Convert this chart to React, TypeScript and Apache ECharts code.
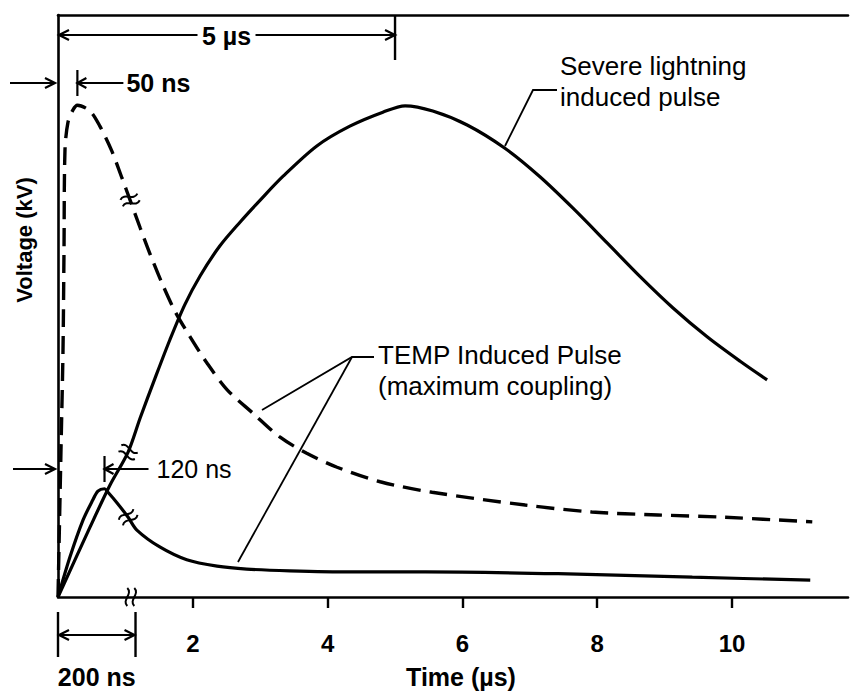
import React, { useEffect, useRef } from "react";
import * as echarts from "echarts";

// ---------- data ----------
// x axis: µs, broken axis – the first segment shows 0–200 ns stretched
const xTickValues = [2, 4, 6, 8, 10];
const X_MAX_US = 11.72;
const Y_MAX = 100; // relative voltage units (no tick labels on the y axis)
const BREAK_NS = 200; // 200 ns is drawn where the axis reads this many µs
const BREAK_AXIS_US = 1.15;
const BREAK_MARK_X = 1.05;

// Severe lightning induced pulse [µs, V]
const lightningUs: [number, number][] = [
  [0, 0], [0.475, 12.0], [0.77, 19.2], [1.04, 24.9], [1.22, 30.8], [1.44, 37.6],
  [1.66, 44.2], [1.88, 50.2], [2.11, 55.2], [2.4, 60.3], [2.7, 64.4], [3.0, 68.2],
  [3.34, 72.3], [3.84, 77.5], [4.33, 80.9], [4.82, 83.3], [5.15, 84.4], [5.56, 83.5],
  [6.07, 81.1], [6.63, 77.1], [7.15, 72.2], [7.64, 66.8], [8.15, 60.8], [8.64, 55.0],
  [9.12, 49.7], [9.63, 44.7], [10.12, 40.5], [10.52, 37.3],
];

// TEMP induced pulse, maximum coupling (dashed) – fast part [ns, V], slow part [µs, V]
const tempPeakFastNs: [number, number][] = [
  [0, 0], [7.7, 25.3], [12.9, 42.4], [15.5, 59.6], [18, 76.8], [25.8, 81.6],
  [38.7, 83.7], [50, 84.5], [82.6, 83.5], [108, 80.9], [139, 76.6], [165, 72.0], [186, 68.2],
];
const tempPeakSlowUs: [number, number][] = [
  [1.22, 63.4], [1.36, 59.1], [1.54, 54.0], [1.74, 49.0], [1.96, 44.7], [2.21, 40.2],
  [2.51, 35.6], [2.89, 31.6], [3.29, 27.5], [3.69, 24.7], [4.14, 22.3], [4.78, 19.8],
  [5.55, 18.0], [6.93, 15.8], [7.92, 14.6], [8.9, 14.1], [9.9, 13.7], [11.19, 12.9],
];

// TEMP induced pulse, lower (solid) – fast part [ns, V], slow part [µs, V]
const tempLowFastNs: [number, number][] = [
  [0, 0], [31, 6.9], [64.5, 13.2], [90, 16.7], [103, 18.2], [120, 18.6], [129, 18.0],
  [152, 16.2], [181, 13.7],
];
const tempLowSlowUs: [number, number][] = [
  [1.17, 11.5], [1.51, 8.6], [1.91, 6.4], [2.36, 5.3], [2.8, 4.8], [3.44, 4.5],
  [4.33, 4.3], [5.45, 4.3], [7.42, 4.0], [9.41, 3.4], [11.16, 2.9],
];

// ---------- helpers ----------
const nsToAxis = (ns: number) => (ns / BREAK_NS) * BREAK_AXIS_US;
const joinBroken = (fast: [number, number][], slow: [number, number][]) =>
  fast.map(([t, v]) => [nsToAxis(t), v] as [number, number]).concat(slow);

const FONT = '"Liberation Sans", Arial, Helvetica, sans-serif';
const INK = "#000";

function arrowHead(x: number, y: number, dx: number, dy: number, L = 10, W = 5) {
  return {
    type: "polyline",
    z: 50,
    shape: {
      points: [
        [x - dx * L - dy * W, y - dy * L + dx * W],
        [x, y],
        [x - dx * L + dy * W, y - dy * L - dx * W],
      ],
    },
    style: { stroke: INK, lineWidth: 2.2, fill: null },
  };
}
function seg(x1: number, y1: number, x2: number, y2: number, w = 2.2) {
  return { type: "line", z: 50, shape: { x1, y1, x2, y2 }, style: { stroke: INK, lineWidth: w } };
}
function label(text: string, x: number, y: number, align: string, bold = false, size = 26, rotation = 0) {
  return {
    type: "text",
    z: 60,
    x,
    y,
    rotation,
    style: {
      text,
      fill: INK,
      font: `${bold ? "bold " : ""}${size}px ${FONT}`,
      textAlign: align,
      verticalAlign: "middle",
    },
  };
}
function breakMark(x: number, y: number, rotation: number) {
  const s = (ox: number) => ({
    type: "bezierCurve",
    shape: { x1: ox, y1: -9, cpx1: ox + 6, cpy1: -3, cpx2: ox - 6, cpy2: 3, x2: ox, y2: 9 },
    style: { stroke: INK, lineWidth: 2, fill: null },
  });
  return {
    type: "group",
    x,
    y,
    rotation,
    z: 70,
    children: [
      { type: "rect", shape: { x: -3, y: -5, width: 6, height: 10 }, style: { fill: "#fff" } },
      s(-3.5),
      s(3.5),
    ],
  };
}

export default function App() {
  const ref = useRef<HTMLDivElement>(null);

  useEffect(() => {
    if (!ref.current) return;
    const chart = echarts.init(ref.current, null, { renderer: "svg" });

    const lightning = lightningUs;
    const tempPeak = joinBroken(tempPeakFastNs, tempPeakSlowUs);
    const tempLow = joinBroken(tempLowFastNs, tempLowSlowUs);

    const axisLine = { show: true, lineStyle: { color: INK, width: 2.6 } };

    chart.setOption({
      animation: false,
      backgroundColor: "#fff",
      grid: { left: 58, right: 2, top: 15, bottom: 95 },
      xAxis: [
        {
          type: "value",
          min: 0,
          max: X_MAX_US,
          interval: 2,
          axisLine,
          axisTick: { show: true, customValues: xTickValues, length: 11, lineStyle: { color: INK, width: 2.4 } },
          axisLabel: {
            customValues: xTickValues,
            margin: 34,
            color: INK,
            fontFamily: FONT,
            fontSize: 24,
            fontWeight: "bold",
          },
          splitLine: { show: false },
        },
        {
          type: "value",
          position: "top",
          min: 0,
          max: X_MAX_US,
          axisLine,
          axisTick: { show: false },
          axisLabel: { show: false },
          splitLine: { show: false },
        },
      ],
      yAxis: {
        type: "value",
        min: 0,
        max: Y_MAX,
        axisLine,
        axisTick: { show: false },
        axisLabel: { show: false },
        splitLine: { show: false },
      },
      series: [
        {
          name: "Severe lightning induced pulse",
          type: "line",
          data: lightning,
          symbol: "none",
          smooth: 0.3,
          lineStyle: { color: INK, width: 3.2 },
          z: 3,
        },
        {
          name: "TEMP Induced Pulse (maximum coupling)",
          type: "line",
          data: tempPeak,
          symbol: "none",
          smooth: 0.3,
          lineStyle: { color: INK, width: 3.4, type: [18, 9] },
          z: 3,
        },
        {
          name: "TEMP Induced Pulse (low)",
          type: "line",
          data: tempLow,
          symbol: "none",
          smooth: 0.3,
          lineStyle: { color: INK, width: 3.2 },
          z: 3,
        },
      ],
    });

    const px = (x: number, y = 0) => chart.convertToPixel({ gridIndex: 0 }, [x, y]) as number[];

    const breakOn = (data: [number, number][]) => {
      let idx = 0;
      data.forEach((d, i) => {
        if (Math.abs(d[0] - BREAK_MARK_X) < Math.abs(data[idx][0] - BREAK_MARK_X)) idx = i;
      });
      const p = px(data[idx][0], data[idx][1]);
      const a = px(data[Math.max(0, idx - 1)][0], data[Math.max(0, idx - 1)][1]);
      const b = px(data[Math.min(data.length - 1, idx + 1)][0], data[Math.min(data.length - 1, idx + 1)][1]);
      const rot = Math.atan2(-(b[1] - a[1]), b[0] - a[0]);
      return breakMark(p[0], p[1], rot);
    };

    const [x0, yBase] = px(0, 0);
    const x5 = px(5)[0];
    const x50 = px(nsToAxis(50))[0];
    const x120 = px(nsToAxis(120))[0];
    const x200 = px(nsToAxis(200))[0];
    const xAxisBreak = px(1.08)[0];

    const dimY = 35;
    const mid5 = (x0 + x5) / 2;

    const graphic: any[] = [
      // 5 µs dimension
      seg(x0 + 1, dimY, mid5 - 29, dimY),
      seg(mid5 + 29, dimY, x5, dimY),
      arrowHead(x0 + 1, dimY, -1, 0),
      arrowHead(x5, dimY, 1, 0),
      seg(x5, 15, x5, 60, 2.4),
      label("5 \u00b5s", mid5, dimY + 1, "center", true, 25),
      // 50 ns
      seg(x50, 70, x50, 96),
      seg(x50, 83, x50 + 46, 83),
      arrowHead(x50, 83, -1, 0, 9, 5),
      label("50 ns", x50 + 49, 83, "left", true, 25),
      // level arrows on the voltage axis
      seg(10, 83, x0 - 3, 83),
      arrowHead(x0 - 3, 83, 1, 0),
      seg(13, 469, x0 - 3, 469),
      arrowHead(x0 - 3, 469, 1, 0),
      // 120 ns
      seg(x120, 456, x120, 482),
      seg(x120, 469, x120 + 44, 469),
      arrowHead(x120, 469, -1, 0, 9, 5),
      label("120 ns", x120 + 52, 469, "left", false, 25),
      // 200 ns
      seg(x0, 612, x0, 657, 2.4),
      seg(x200, 612, x200, 657, 2.4),
      seg(x0 + 1, 635, x200 - 1, 635),
      arrowHead(x0 + 1, 635, -1, 0),
      arrowHead(x200 - 1, 635, 1, 0),
      label("200 ns", (x0 + x200) / 2, 677, "center", true, 25),
      // axis titles
      label("Time (\u00b5s)", 461, 677, "center", true, 25),
      label("Voltage (kV)", 24, 240, "center", true, 22, Math.PI / 2),
      // series labels + leaders
      label("Severe lightning", 560, 66, "left"),
      label("induced pulse", 560, 97, "left"),
      { type: "polyline", z: 50, shape: { points: [[557, 90], [533, 90], [505, 146]] }, style: { stroke: INK, lineWidth: 1.8, fill: null } },
      label("TEMP Induced Pulse", 378, 355, "left"),
      label("(maximum coupling)", 378, 386, "left"),
      { type: "polyline", z: 50, shape: { points: [[374, 357], [352, 357], [262, 410]] }, style: { stroke: INK, lineWidth: 1.8, fill: null } },
      seg(352, 357, 238, 562, 1.8),
      // axis / curve breaks
      breakMark(xAxisBreak, yBase, 0),
      breakOn(lightning),
      breakOn(tempPeak),
      breakOn(tempLow),
    ];

    chart.setOption({ graphic });

    return () => chart.dispose();
  }, []);

  return <div ref={ref} style={{ position: "fixed", left: 0, top: 0, width: 850, height: 692, background: "#fff" }} />;
}
